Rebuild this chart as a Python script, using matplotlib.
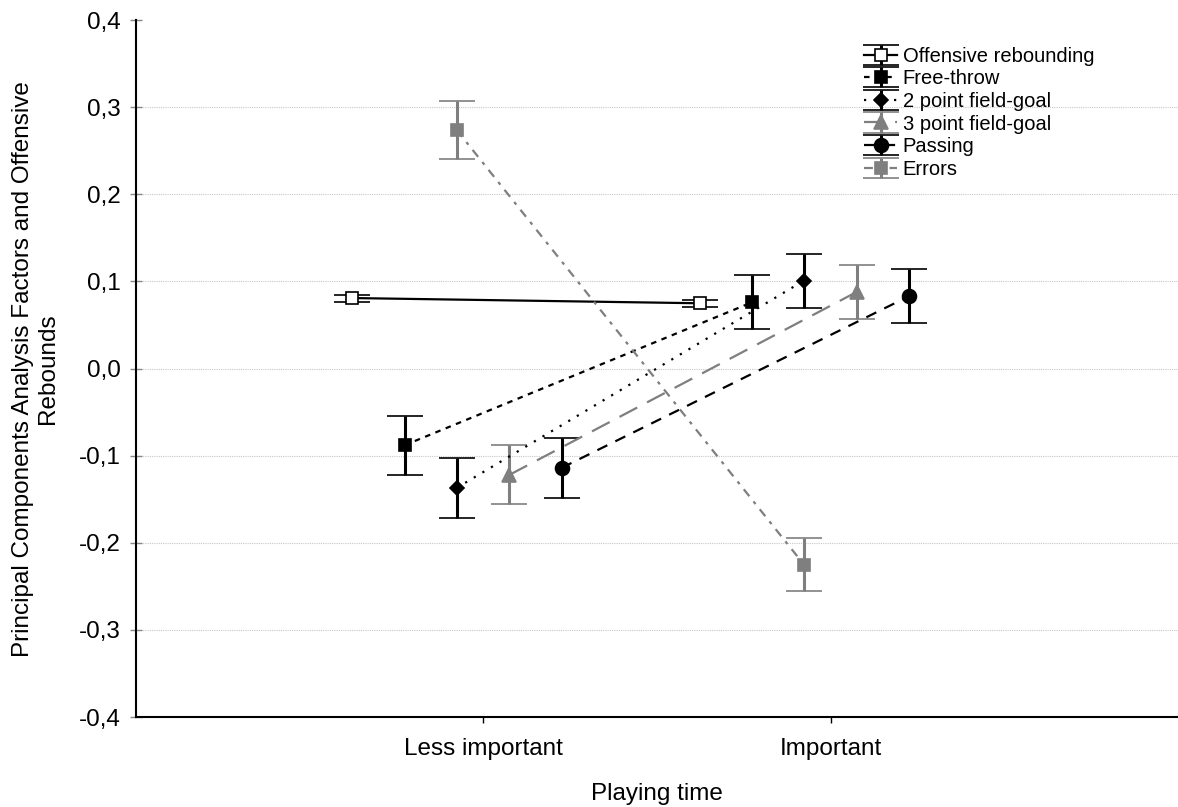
import matplotlib.pyplot as plt
import numpy as np

plt.rcParams['font.family'] = ['Liberation Sans', 'DejaVu Sans']

# 데이터
categories = ['Less important', 'Important']
series_names = ['Offensive rebounding', 'Free-throw', '2 point field-goal',
                '3 point field-goal', 'Passing', 'Errors']
off_reb = [0.081, 0.075]
off_reb_err = [0.004, 0.004]
free_throw = [-0.088, 0.076]
free_throw_err = [0.034, 0.031]
two_point = [-0.137, 0.101]
two_point_err = [0.034, 0.031]
three_point = [-0.122, 0.088]
three_point_err = [0.034, 0.031]
passing = [-0.114, 0.083]
passing_err = [0.034, 0.031]
errors = [0.274, -0.225]
errors_err = [0.033, 0.030]
y_ticks = [-0.4, -0.3, -0.2, -0.1, 0.0, 0.1, 0.2, 0.3, 0.4]

values = [off_reb, free_throw, two_point, three_point, passing, errors]
errs = [off_reb_err, free_throw_err, two_point_err, three_point_err, passing_err, errors_err]

# 스타일 (색, 선 모양, 마커, x 오프셋)
gray = '#7f7f7f'
styles = [
    dict(color='black', ls='-', marker='s', mfc='white', ms=9, off=-0.377),
    dict(color='black', ls=(0, (2.5, 2.5)), marker='s', mfc='black', ms=9, off=-0.227),
    dict(color='black', ls=(0, (1, 3.5)), marker='D', mfc='black', ms=7, off=-0.077),
    dict(color=gray, ls=(0, (9, 5)), marker='^', mfc=gray, ms=10, off=0.075),
    dict(color='black', ls=(0, (5, 4)), marker='o', mfc='black', ms=10, off=0.225),
    dict(color=gray, ls=(0, (4, 3, 1.5, 3)), marker='s', mfc=gray, ms=9, off=-0.077),
]

fig = plt.figure(figsize=(11.78, 8.07), dpi=100)
ax = fig.add_axes([0.1155, 0.1115, 0.8845, 0.8635])

x_base = np.arange(1, len(categories) + 1)
for name, v, e, st in zip(series_names, values, errs, styles):
    xs = x_base + st['off']
    ax.errorbar(xs, v, yerr=e, color=st['color'], ls=st['ls'], lw=1.6,
                marker=st['marker'], ms=st['ms'], mfc=st['mfc'], mec=st['color'],
                mew=1.2, elinewidth=2.2, capsize=13, capthick=2.2, label=name,
                zorder=3)

ax.set_xlim(0, 3)
ax.set_ylim(-0.4, 0.4)
ax.set_xticks(x_base)
ax.set_xticklabels(categories)
ax.set_yticks(y_ticks)
ax.set_yticklabels([f'{t:.1f}'.replace('.', ',') for t in y_ticks])
ax.tick_params(labelsize=17.5, width=1)
ax.tick_params(axis='x', length=4, pad=11)
ax.tick_params(axis='y', direction='inout', length=8, color='#888888', pad=7)

for t in y_ticks[1:-1]:
    ax.axhline(t, color='#c8c8c8', ls=(0, (1, 1)), lw=0.8, zorder=0)

for s in ['top', 'right']:
    ax.spines[s].set_visible(False)
for s in ['left', 'bottom']:
    ax.spines[s].set_linewidth(1.5)

ax.set_xlabel('Playing time', fontsize=17.5, labelpad=17)
ax.set_ylabel('Principal Components Analysis Factors and Offensive\nRebounds',
              fontsize=17.5, labelpad=14)

ax.legend(loc='upper right', bbox_to_anchor=(0.937, 0.988), frameon=False,
          fontsize=14.5, handlelength=1.6, handletextpad=0.3, labelspacing=0.18)

fig.savefig('out.png', dpi=100)
